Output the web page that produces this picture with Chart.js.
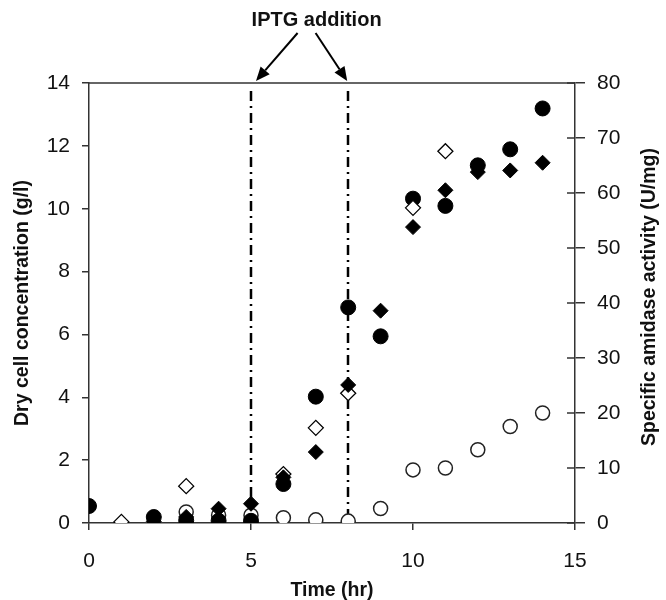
<!DOCTYPE html>
<html>
<head>
<meta charset="utf-8">
<script src="https://cdn.jsdelivr.net/npm/chart.js@4.4.0/dist/chart.umd.min.js"></script>
<style>
  html, body { margin: 0; padding: 0; background: #fff; }
  #wrap { width: 666px; height: 600px; position: relative; }
</style>
</head>
<body>
<div id="wrap"><canvas id="chart"></canvas></div>
<script>
// Sampling times (hr) and readings for each marker series
const timeFilledCircle = [0, 2, 3, 4, 5, 6, 7, 8, 9, 10, 11, 12, 13, 14];
const dryCellFilled = [0.54, 0.19, 0.08, 0.07, 0.07, 1.24, 4.02, 6.86, 5.94, 10.32, 10.09, 11.38, 11.89, 13.19];

const timeOpenCircle = [3, 4, 5, 6, 7, 8, 9, 10, 11, 12, 13, 14];
const dryCellOpen = [0.35, 0.25, 0.25, 0.17, 0.1, 0.06, 0.46, 1.69, 1.75, 2.33, 3.07, 3.5];

const timeFilledDiamond = [2, 3, 4, 5, 6, 7, 8, 9, 10, 11, 12, 13, 14];
const activityFilled = [0.3, 1.1, 2.6, 3.5, 8.3, 12.9, 25.1, 38.6, 53.8, 60.5, 63.8, 64.1, 65.5];

const timeOpenDiamond = [1, 3, 6, 7, 8, 10, 11];
const activityOpen = [0.2, 6.7, 8.9, 17.3, 23.6, 57.3, 67.6];

// IPTG addition times (hr)
const iptgTimes = [5, 8];

// Axis ranges / tick steps
const xRange = [0, 15], xStep = 5;
const leftRange = [0, 14], leftStep = 2;
const rightRange = [0, 80], rightStep = 10;

const AXIS = '#333';
const TEXT = '#111';
const FONT = '"Liberation Sans", Arial, sans-serif';
const rightTitle = 'Specific amidase activity (U/mg)';

function toPoints(xs, ys) {
    return xs.map((x, i) => ({ x: x, y: ys[i] }));
}

// frame, IPTG lines, arrows, right title
const overlay = {
    id: 'overlay',
    beforeDatasetsDraw(chart) {
        const ctx = chart.ctx;
        const area = chart.chartArea;
        const xs = chart.scales.x;
        ctx.save();
        ctx.strokeStyle = '#000';
        ctx.lineWidth = 2.5;
        ctx.setLineDash([10, 5, 2, 5]);
        iptgTimes.forEach(t => {
            const px = Math.round(xs.getPixelForValue(t));
            ctx.beginPath();
            ctx.moveTo(px, area.top + 8);
            ctx.lineTo(px, area.bottom);
            ctx.stroke();
        });
        ctx.restore();
    },
    afterDraw(chart) {
        const ctx = chart.ctx;
        const area = chart.chartArea;
        const xs = chart.scales.x;
        const yr = chart.scales.y2;
        ctx.save();
        ctx.strokeStyle = AXIS;
        ctx.lineWidth = 1.5;
        // top border
        ctx.beginPath();
        ctx.moveTo(area.left, area.top);
        ctx.lineTo(area.right, area.top);
        ctx.stroke();
        // inner half of right-axis ticks
        yr.ticks.forEach(tk => {
            const py = yr.getPixelForValue(tk.value);
            ctx.beginPath();
            ctx.moveTo(area.right - 8, py);
            ctx.lineTo(area.right, py);
            ctx.stroke();
        });

        // right title, reading bottom to top
        ctx.save();
        ctx.translate(650, (area.top + area.bottom) / 2 - 6);
        ctx.rotate(-Math.PI / 2);
        ctx.fillStyle = TEXT;
        ctx.font = 'bold 19.5px ' + FONT;
        ctx.textAlign = 'center';
        ctx.textBaseline = 'middle';
        ctx.fillText(rightTitle, 0, 0);
        ctx.restore();

        // annotation text + arrows
        const x1 = xs.getPixelForValue(iptgTimes[0]);
        const x2 = xs.getPixelForValue(iptgTimes[1]);
        const tx = (x1 + x2) / 2 + 17;
        ctx.fillStyle = TEXT;
        ctx.font = 'bold 20px ' + FONT;
        ctx.textAlign = 'center';
        ctx.textBaseline = 'middle';
        ctx.fillText('IPTG addition', tx, 20);

        ctx.strokeStyle = '#000';
        ctx.fillStyle = '#000';
        ctx.lineWidth = 2;
        const arrows = [[tx - 19, 33, x1 + 5, area.top - 2], [tx - 1, 33, x2 - 1, area.top - 2]];
        arrows.forEach(([sx, sy, ex, ey]) => {
            const ang = Math.atan2(ey - sy, ex - sx);
            const len = 14, half = 6;
            const bx = ex - len * Math.cos(ang), by = ey - len * Math.sin(ang);
            ctx.beginPath();
            ctx.moveTo(sx, sy);
            ctx.lineTo(bx, by);
            ctx.stroke();
            ctx.beginPath();
            ctx.moveTo(ex, ey);
            ctx.lineTo(bx + half * Math.sin(ang), by - half * Math.cos(ang));
            ctx.lineTo(bx - half * Math.sin(ang), by + half * Math.cos(ang));
            ctx.closePath();
            ctx.fill();
        });
        ctx.restore();
    }
};

const ctx = document.getElementById('chart').getContext('2d');
const chart = new Chart(ctx, {
    type: 'scatter',
    data: {
        datasets: [
            {
                label: 'Specific activity (filled)',
                data: toPoints(timeFilledDiamond, activityFilled),
                yAxisID: 'y2',
                pointStyle: 'rectRot',
                pointRadius: 7.5,
                backgroundColor: '#000',
                borderColor: '#000',
                borderWidth: 1
            },
            {
                label: 'Specific activity (open)',
                data: toPoints(timeOpenDiamond, activityOpen),
                yAxisID: 'y2',
                pointStyle: 'rectRot',
                pointRadius: 7.5,
                backgroundColor: '#fff',
                borderColor: '#000',
                borderWidth: 1.3
            },
            {
                label: 'Dry cell concentration (filled)',
                data: toPoints(timeFilledCircle, dryCellFilled),
                yAxisID: 'y',
                pointStyle: 'circle',
                pointRadius: 7.5,
                backgroundColor: '#000',
                borderColor: '#000',
                borderWidth: 1
            },
            {
                label: 'Dry cell concentration (open)',
                data: toPoints(timeOpenCircle, dryCellOpen),
                yAxisID: 'y',
                pointStyle: 'circle',
                pointRadius: 7,
                backgroundColor: '#fff',
                borderColor: '#222',
                borderWidth: 1.5
            }
        ]
    },
    options: {
        responsive: true,
        maintainAspectRatio: false,
        animation: false,
        layout: { padding: { top: 83, left: 0, right: 0, bottom: 0 } },
        plugins: {
            legend: { display: false },
            tooltip: { enabled: false }
        },
        scales: {
            x: {
                type: 'linear',
                min: xRange[0],
                max: xRange[1],
                afterFit(s) { s.height = 77; },
                border: { color: AXIS, width: 1.5 },
                grid: { drawOnChartArea: false, color: AXIS, lineWidth: 1.5, tickLength: 7 },
                ticks: {
                    stepSize: xStep,
                    color: TEXT,
                    padding: 19,
                    font: { family: FONT, size: 21 }
                },
                title: {
                    display: true,
                    text: 'Time (hr)',
                    color: TEXT,
                    padding: { top: 0, bottom: 0 },
                    font: { family: FONT, size: 19.5, weight: 'bold', lineHeight: 1.0 }
                }
            },
            y: {
                type: 'linear',
                position: 'left',
                min: leftRange[0],
                max: leftRange[1],
                afterFit(s) { s.width = 89; },
                border: { color: AXIS, width: 1.5 },
                grid: { drawOnChartArea: false, color: AXIS, lineWidth: 1.5, tickLength: 7 },
                ticks: {
                    stepSize: leftStep,
                    color: TEXT,
                    padding: 12,
                    font: { family: FONT, size: 21 }
                },
                title: {
                    display: true,
                    text: 'Dry cell concentration (g/l)',
                    color: TEXT,
                    padding: { top: 13, bottom: 0 },
                    font: { family: FONT, size: 19.5, weight: 'bold', lineHeight: 1.0 }
                }
            },
            y2: {
                type: 'linear',
                position: 'right',
                min: rightRange[0],
                max: rightRange[1],
                afterFit(s) { s.width = 91; },
                border: { color: AXIS, width: 1.5 },
                grid: { drawOnChartArea: false, color: AXIS, lineWidth: 1.5, tickLength: 10 },
                ticks: {
                    stepSize: rightStep,
                    color: TEXT,
                    padding: 12,
                    font: { family: FONT, size: 21 }
                },
                title: { display: false }
            }
        }
    },
    plugins: [overlay]
});
</script>
</body>
</html>
